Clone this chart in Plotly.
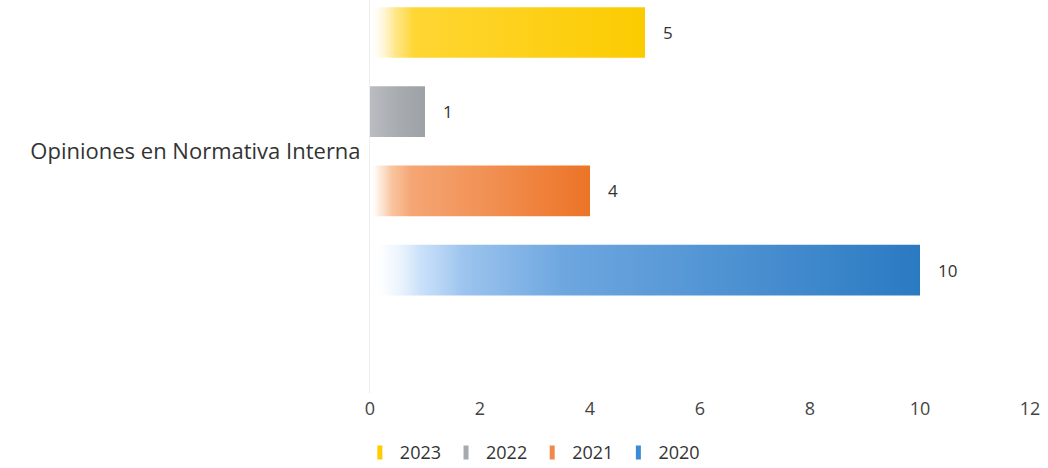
import plotly.graph_objects as go

category = "Opiniones en Normativa Interna"
series = ["2023", "2022", "2021", "2020"]
values = [5, 1, 4, 10]
x_ticks = [0, 2, 4, 6, 8, 10, 12]

colorscales = {
    "2023": [[0, "rgba(255,255,255,0)"], [0.03, "rgba(255,245,210,0.4)"], [0.09, "rgba(255,225,110,0.8)"], [0.16, "#FFD633"], [1, "#FBCB00"]],
    "2022": [[0, "#B9BCC1"], [0.5, "#A8ABB0"], [1, "#9EA1A6"]],
    "2021": [[0, "rgba(255,255,255,0)"], [0.04, "rgba(250,215,190,0.5)"], [0.1, "rgba(248,185,140,0.85)"], [0.19, "#F5A574"], [1, "#EC7426"]],
    "2020": [[0, "rgba(255,255,255,0)"], [0.04, "rgba(225,238,252,0.4)"], [0.09, "rgba(190,218,248,0.8)"], [0.17, "#9CC4EE"], [0.35, "#6EA7E0"], [1, "#2A7AC2"]],
}
legend_colors = {"2023": "#FFCC00", "2022": "#A6A9AE", "2021": "#F08A4B", "2020": "#3D8BD6"}

half = 0.32
font = "Open Sans"
fig = go.Figure()

for i, (s, v) in enumerate(zip(series, values)):
    c = i
    fig.add_trace(go.Scatter(
        x=[0, v, v, 0, 0],
        y=[c - half, c - half, c + half, c + half, c - half],
        mode="lines", line=dict(width=0),
        fill="toself",
        fillgradient=dict(type="horizontal", colorscale=colorscales[s]),
        showlegend=False, name=s, hoverinfo="skip",
    ))
    fig.add_annotation(x=v, y=c, text=str(v), showarrow=False,
                       xanchor="left", xshift=16,
                       font=dict(family=font, size=17, color="#333333"))

for s in series:
    fig.add_trace(go.Scatter(
        x=[None], y=[None], mode="markers", name=s,
        marker=dict(symbol="line-ns", size=10, color=legend_colors[s],
                    line=dict(width=5, color=legend_colors[s])),
    ))

fig.update_layout(
    width=1048, height=468,
    margin=dict(l=370, r=18, t=0, b=75, autoexpand=False),
    paper_bgcolor="white", plot_bgcolor="white",
    showlegend=True,
    legend=dict(orientation="h", x=0.246, xanchor="center", y=-0.105, yanchor="top",
                font=dict(family=font, size=18, color="#333333"),
                itemwidth=30, traceorder="normal"),
    font=dict(family=font, color="#333333"),
)
fig.update_xaxes(range=[0, 12], tickvals=x_ticks, showgrid=False, zeroline=False,
                 showline=False, tickfont=dict(family=font, size=18, color="#444444"),
                 ticks="", ticklabelstandoff=3, automargin=False)
fig.update_yaxes(range=[4.55, -0.41], tickvals=[1.5], ticktext=[category],
                 showgrid=False, zeroline=False, showline=True, linecolor="#eeeeee",
                 tickfont=dict(family=font, size=22, color="#333333"), ticks="",
                 ticklabelstandoff=4, automargin=False)

fig.write_html("out.html", config={"displayModeBar": False},
               post_script="document.body.style.margin='0';document.body.style.overflow='hidden';")
